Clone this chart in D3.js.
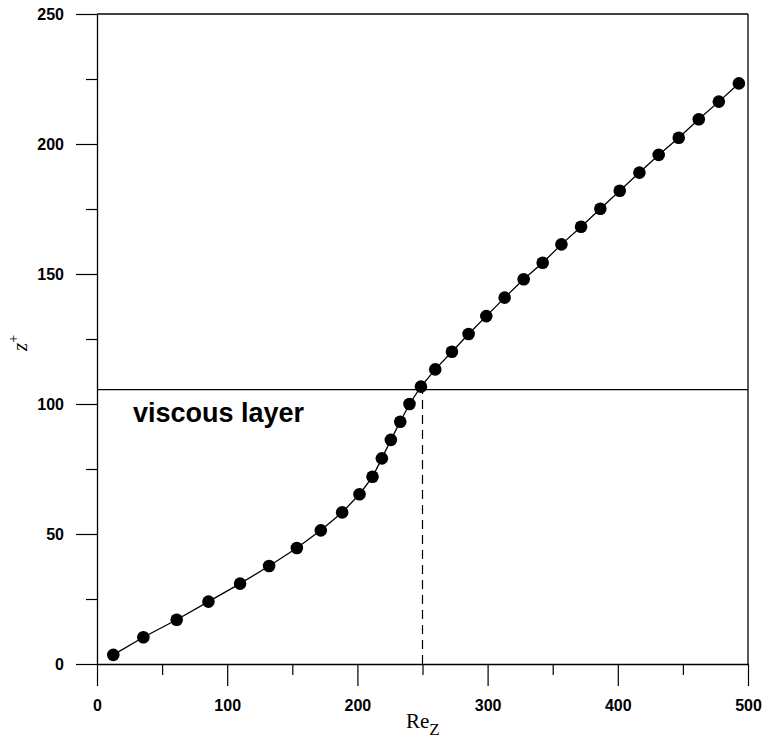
<!DOCTYPE html>
<html>
<head>
<meta charset="utf-8">
<script src="https://cdn.jsdelivr.net/npm/d3@7"></script>
<style>
html,body{margin:0;padding:0;background:#fff;}
svg{display:block;}
</style>
</head>
<body>
<svg id="chart" width="766" height="746"></svg>
<script>
// Data
const reZ = [12.5, 35.6, 61.2, 85.6, 109.9, 132.2, 153.5, 171.9, 188.3, 201.6, 211.6,
             218.8, 225.7, 232.9, 240.0, 248.8, 259.8, 272.6, 285.4, 299.0, 313.1,
             327.7, 342.3, 356.7, 371.8, 386.6, 401.5, 416.6, 431.4, 446.8, 462.2,
             477.6, 493.0];
const zPlus = [3.5, 10.3, 17.0, 24.0, 30.9, 37.7, 44.6, 51.4, 58.3, 65.3, 72.0,
               79.1, 86.2, 93.2, 100.0, 106.7, 113.3, 120.1, 126.9, 133.8, 140.9,
               148.0, 154.3, 161.4, 168.2, 175.1, 182.0, 189.0, 195.8, 202.4, 209.5,
               216.3, 223.3];
const xMajorTicks = [0, 100, 200, 300, 400, 500];
const xMinorTicks = [50, 150, 250, 350, 450];
const yMajorTicks = [0, 50, 100, 150, 200, 250];
const yMinorTicks = [25, 75, 125, 175, 225];
const layerZ = 105.5;      // horizontal line: edge of viscous layer
const layerRe = 250;       // dashed vertical line
const annotation = "viscous layer";

const svg = d3.select("#chart");
const L = 97, R = 748, T = 14, B = 664;
const x = d3.scaleLinear().domain([0, 500]).range([L, R]);
const y = d3.scaleLinear().domain([0, 250]).range([B, T]);

const tickFont = "bold 16px 'Liberation Sans', Arial, sans-serif";

// frame (top and right)
svg.append("line").attr("x1", L).attr("x2", R).attr("y1", T).attr("y2", T)
  .attr("stroke", "#000").attr("stroke-width", 1.3);
svg.append("line").attr("x1", R).attr("x2", R).attr("y1", T).attr("y2", B)
  .attr("stroke", "#000").attr("stroke-width", 1.3);

// X axis
const gx = svg.append("g").attr("transform", `translate(0,${B})`);
gx.call(d3.axisBottom(x).tickValues(xMajorTicks).tickSize(22).tickPadding(14).tickSizeOuter(0));
gx.append("g").call(d3.axisBottom(x).tickValues(xMinorTicks).tickSize(11).tickFormat("").tickSizeOuter(0))
  .select(".domain").remove();
// Y axis
const gy = svg.append("g").attr("transform", `translate(${L},0)`);
gy.call(d3.axisLeft(y).tickValues(yMajorTicks).tickSize(21).tickPadding(12).tickSizeOuter(0));
gy.append("g").call(d3.axisLeft(y).tickValues(yMinorTicks).tickSize(11).tickFormat("").tickSizeOuter(0))
  .select(".domain").remove();

svg.selectAll(".domain").attr("stroke", "#000").attr("stroke-width", 1.3);
svg.selectAll(".tick line").attr("stroke", "#000").attr("stroke-width", 1.2);
svg.selectAll(".tick text").style("font", tickFont).attr("fill", "#000");

// horizontal viscous-layer line
svg.append("line").attr("x1", x(0)).attr("x2", x(500)).attr("y1", y(layerZ)).attr("y2", y(layerZ))
  .attr("stroke", "#000").attr("stroke-width", 1.2);
// dashed vertical line
svg.append("line").attr("x1", x(layerRe)).attr("x2", x(layerRe)).attr("y1", y(0)).attr("y2", y(layerZ))
  .attr("stroke", "#000").attr("stroke-width", 1.2).attr("stroke-dasharray", "9,6");

// data line
const pts = reZ.map((v, i) => [v, zPlus[i]]);
svg.append("path").datum(pts)
  .attr("fill", "none").attr("stroke", "#000").attr("stroke-width", 1.3)
  .attr("d", d3.line().x(d => x(d[0])).y(d => y(d[1])));
svg.append("g").selectAll("circle").data(pts).join("circle")
  .attr("cx", d => x(d[0])).attr("cy", d => y(d[1])).attr("r", 6.3).attr("fill", "#000");

// annotation
svg.append("text").attr("x", 133).attr("y", 422)
  .style("font", "bold 27px 'Liberation Sans', Arial, sans-serif")
  .attr("fill", "#000").text(annotation);

// x title Re_z
const xt = svg.append("text").attr("x", 406).attr("y", 728)
  .style("font", "21px 'Liberation Serif', 'Times New Roman', serif").attr("fill", "#000");
xt.append("tspan").text("Re");
xt.append("tspan").attr("dy", 7).style("font-size", "17px").text("Z");

// y title z+
const yt = svg.append("text").attr("transform", "translate(27,343) rotate(-90)")
  .attr("text-anchor", "middle")
  .style("font", "italic 21px 'Liberation Serif', 'Times New Roman', serif").attr("fill", "#000");
yt.append("tspan").text("z");
yt.append("tspan").attr("dy", -9).style("font-size", "14px").style("font-style", "normal").text("+");
</script>
</body>
</html>
